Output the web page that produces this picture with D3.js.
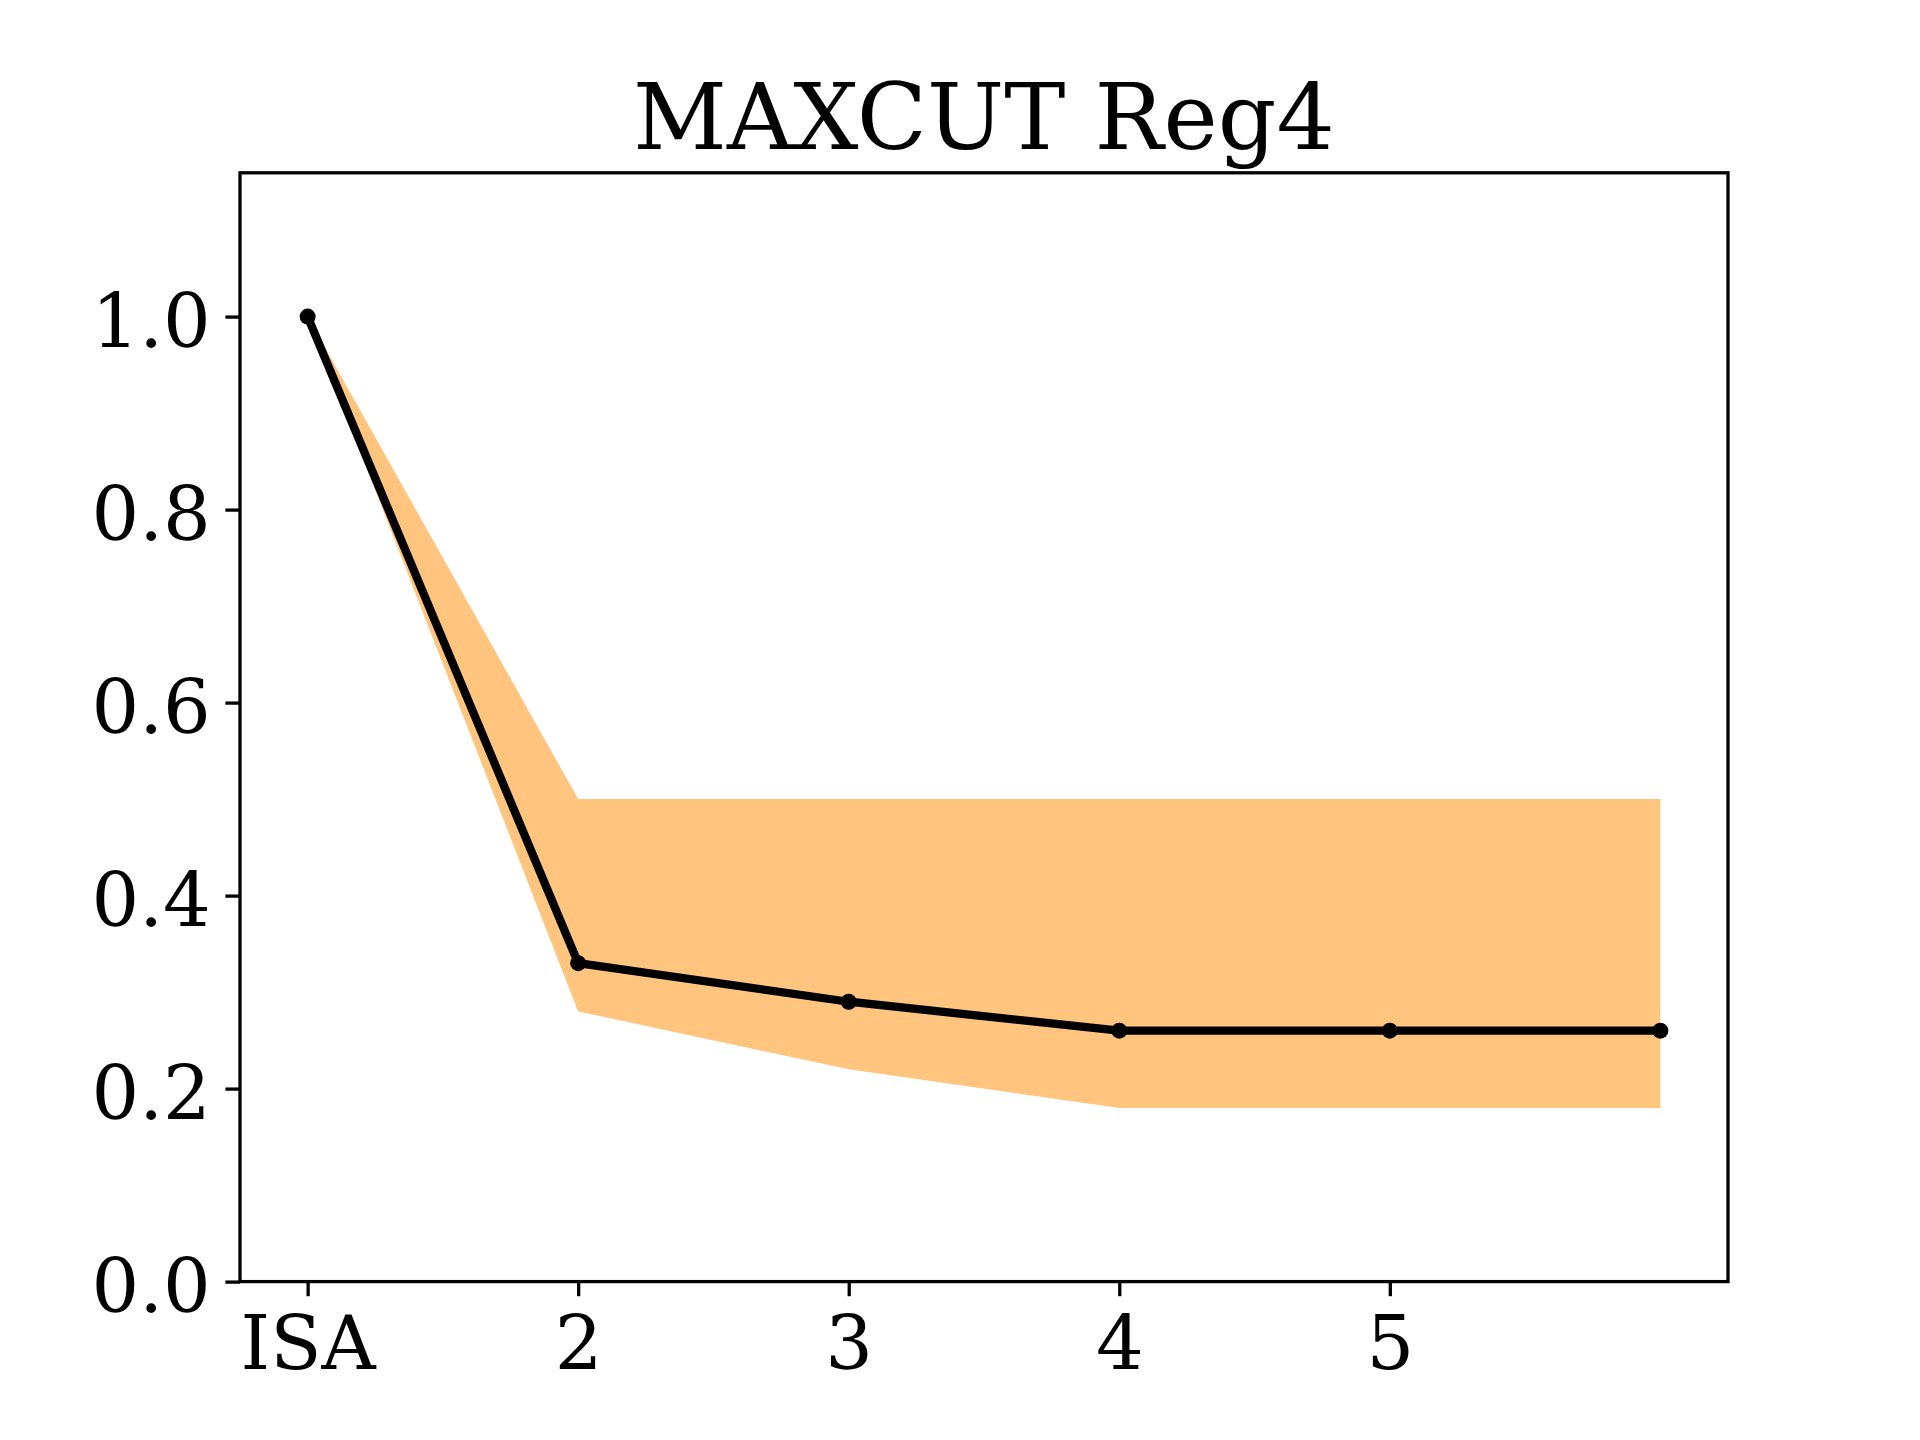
<!DOCTYPE html>
<html>
<head>
<meta charset="utf-8">
<script src="https://cdn.jsdelivr.net/npm/d3@7"></script>
<style>
	body { margin: 0; background: #fff; }
	text { font-family: 'DejaVu Serif', serif; fill: #000; }
</style>
</head>
<body>
<svg id="chart" width="1920" height="1440"></svg>
<script>
// data
const steps = [0, 1, 2, 3, 4, 5];
const tickLabels = ['ISA', '2', '3', '4', '5'];
const meanVals = [1.0, 0.33, 0.29, 0.26, 0.26, 0.26];
const upperVals = [1.0, 0.5, 0.5, 0.5, 0.5, 0.5];
const lowerVals = [1.0, 0.28, 0.22, 0.18, 0.18, 0.18];
const yTicks = [0.0, 0.2, 0.4, 0.6, 0.8, 1.0];

const margin = {left: 240, right: 192, top: 172.8, bottom: 158.4};
const width = 1920, height = 1440;

const svg = d3.select('#chart');

let x = d3.scaleLinear()
	.domain([-0.25, 5.25])
	.range([margin.left, width - margin.right]);

let y = d3.scaleLinear()
	.domain([0, 1.149])
	.range([height - margin.bottom, margin.top]);

let rows = steps.map((s, i) => ({s: s, m: meanVals[i], hi: upperVals[i], lo: lowerVals[i]}));

// band
svg.append('path')
	.datum(rows)
	.attr('fill', '#ffc57f')
	.attr('d', d3.area()
		.x((d) => x(d.s))
		.y0((d) => y(d.lo))
		.y1((d) => y(d.hi)));

// mean line
svg.append('path')
	.datum(rows)
	.attr('fill', 'none')
	.attr('stroke', '#000')
	.attr('stroke-width', 8.3)
	.attr('stroke-linejoin', 'round')
	.attr('d', d3.line()
		.x((d) => x(d.s))
		.y((d) => y(d.m)));

svg.selectAll('.pt')
	.data(rows)
	.enter()
	.append('circle')
	.attr('class', 'pt')
	.attr('cx', (d) => x(d.s))
	.attr('cy', (d) => y(d.m))
	.attr('r', 8)
	.attr('fill', '#000');

// axes
let xAxis = d3.axisBottom(x)
	.tickValues(d3.range(tickLabels.length))
	.tickFormat((d) => tickLabels[d])
	.tickSize(14.6)
	.tickPadding(14.6);

let yAxis = d3.axisLeft(y)
	.tickValues(yTicks)
	.tickFormat(d3.format('.1f'))
	.tickSize(14.6)
	.tickPadding(14.6);

let gx = svg.append('g')
	.attr('transform', 'translate(0,' + (height - margin.bottom) + ')')
	.call(xAxis);

let gy = svg.append('g')
	.attr('transform', 'translate(' + margin.left + ',0)')
	.call(yAxis);

[gx, gy].forEach((g) => {
	g.select('.domain').remove();
	g.selectAll('.tick line').attr('stroke', '#000').attr('stroke-width', 3.3);
	g.selectAll('.tick text')
		.style('font-family', "'DejaVu Serif', serif")
		.style('font-size', '75px')
		.attr('fill', '#000');
});

gx.selectAll('.tick text').attr('dy', '0.78em');
gy.selectAll('.tick text').attr('dy', '0.4em');

// frame
svg.append('rect')
	.attr('x', margin.left)
	.attr('y', margin.top)
	.attr('width', width - margin.left - margin.right)
	.attr('height', height - margin.top - margin.bottom)
	.attr('fill', 'none')
	.attr('stroke', '#000')
	.attr('stroke-width', 3.3);

// title
svg.append('text')
	.attr('x', (margin.left + width - margin.right) / 2)
	.attr('y', 149)
	.attr('text-anchor', 'middle')
	.style('font-size', '91.7px')
	.text('MAXCUT Reg4');
</script>
</body>
</html>
